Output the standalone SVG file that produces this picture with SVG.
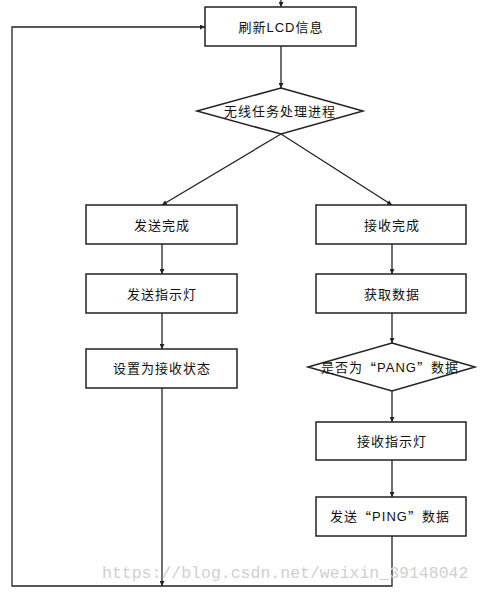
<svg xmlns="http://www.w3.org/2000/svg" width="483" height="592" viewBox="0 0 483 592">
<style>
.n{fill:#fff;stroke:#222;stroke-width:1.5}
.t{font-family:"Liberation Sans","Noto Sans CJK SC",sans-serif;font-size:13px;fill:#111;text-anchor:middle;dominant-baseline:central;letter-spacing:1px}
.q{font-family:"Noto Sans CJK SC",sans-serif}
.c{fill:none;stroke:#222;stroke-width:1.3}
.wm{font-family:"Liberation Mono","DejaVu Sans Mono",monospace;font-size:16.5px;fill:#d0d0d0}
</style>
<defs>
<marker id="a" viewBox="0 0 6 6" refX="6" refY="3" markerWidth="5" markerHeight="5" orient="auto" markerUnits="userSpaceOnUse">
<path d="M0,0 L6,3 L0,6 Z" fill="#222"/>
</marker>
</defs>
<g id="connectors">
<path class="c" d="M281,0 V7" marker-end="url(#a)"/>
<path class="c" d="M281,46 V88" marker-end="url(#a)"/>
<path class="c" d="M281,134 L162,205" marker-end="url(#a)"/>
<path class="c" d="M281,134 L392,205" marker-end="url(#a)"/>
<path class="c" d="M162,244 V274" marker-end="url(#a)"/>
<path class="c" d="M162,313 V349" marker-end="url(#a)"/>
<path class="c" d="M162,388 V586" marker-end="url(#a)"/>
<path class="c" d="M392,244 V274" marker-end="url(#a)"/>
<path class="c" d="M392,313 V343" marker-end="url(#a)"/>
<path class="c" d="M392,391 V422" marker-end="url(#a)"/>
<path class="c" d="M392,460 V497" marker-end="url(#a)"/>
<path class="c" d="M392,536 V586 H12 V27 H205" marker-end="url(#a)"/>
</g>
<g id="n1"><rect class="n" x="205" y="7" width="151" height="39"/><text class="t" x="281" y="27">刷新LCD信息</text></g>
<g id="n2"><polygon class="n" points="281,88 363,111 281,134 197,111"/><text class="t" x="280" y="111">无线任务处理进程</text></g>
<g id="n3"><rect class="n" x="86" y="205" width="151" height="39"/><text class="t" x="162" y="225">发送完成</text></g>
<g id="n4"><rect class="n" x="316" y="205" width="150" height="39"/><text class="t" x="392" y="225">接收完成</text></g>
<g id="n5"><rect class="n" x="86" y="274" width="151" height="39"/><text class="t" x="162" y="294">发送指示灯</text></g>
<g id="n6"><rect class="n" x="316" y="274" width="150" height="39"/><text class="t" x="392" y="294">获取数据</text></g>
<g id="n7"><rect class="n" x="86" y="349" width="151" height="39"/><text class="t" x="162" y="368">设置为接收状态</text></g>
<g id="n8"><polygon class="n" points="392,343 475,367 392,391 308,367"/><text class="t" x="390" y="367">是否为<tspan class="q">“</tspan>PANG<tspan class="q">”</tspan>数据</text></g>
<g id="n9"><rect class="n" x="316" y="422" width="150" height="38"/><text class="t" x="392" y="441">接收指示灯</text></g>
<g id="n10"><rect class="n" x="316" y="497" width="150" height="39"/><text class="t" x="390" y="516">发送<tspan class="q">“</tspan>PING<tspan class="q">”</tspan>数据</text></g>
<text class="wm" x="102" y="578">https://blog.csdn.net/weixin_39148042</text>
</svg>
